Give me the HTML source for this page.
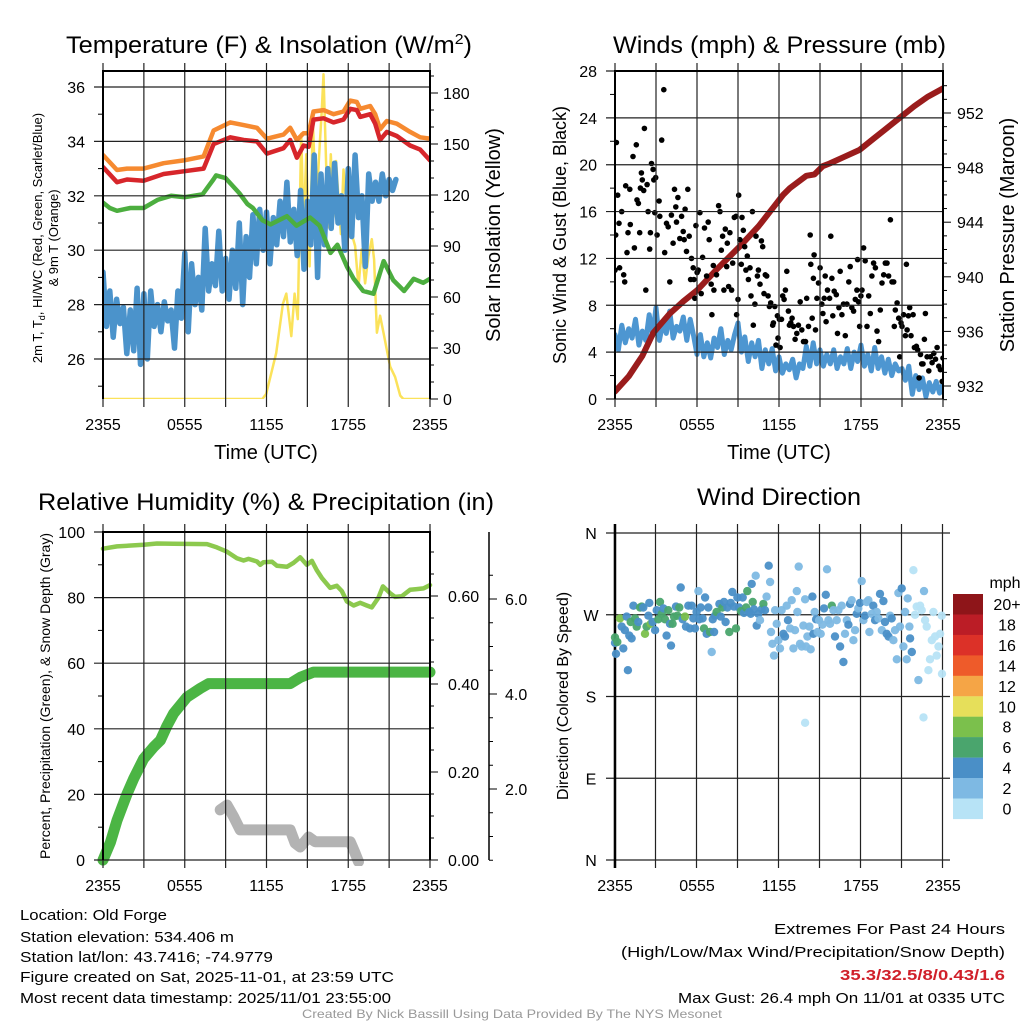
<!DOCTYPE html>
<html><head><meta charset="utf-8"><style>
html,body{margin:0;padding:0;background:#fff;}
svg{display:block;font-family:"Liberation Sans",sans-serif;}
</style></head><body>
<svg id="fig" width="1024" height="1024" viewBox="0 0 1024 1024" xmlns="http://www.w3.org/2000/svg">
<defs>
<clipPath id="cTL"><rect x="103" y="71" width="327" height="328"/></clipPath>
<clipPath id="cTR"><rect x="615" y="71" width="328" height="328"/></clipPath>
<clipPath id="cBL"><rect x="96" y="526" width="345" height="340"/></clipPath>
<clipPath id="cBR"><rect x="606" y="526" width="345" height="340"/></clipPath>
</defs>
<g id="titles" font-size="24" fill="#000">
<text x="66" y="53" textLength="406" lengthAdjust="spacingAndGlyphs">Temperature (F) &amp; Insolation (W/m<tspan dy="-9" font-size="15">2</tspan><tspan dy="9">)</tspan></text>
<text x="613" y="53" textLength="333" lengthAdjust="spacingAndGlyphs">Winds (mph) &amp; Pressure (mb)</text>
<text x="38" y="510" textLength="456" lengthAdjust="spacingAndGlyphs">Relative Humidity (%) &amp; Precipitation (in)</text>
<text x="697" y="505" textLength="164" lengthAdjust="spacingAndGlyphs">Wind Direction</text>
</g>
<g font-size="20">
<text x="266" y="459" text-anchor="middle">Time (UTC)</text>
<text x="779" y="459" text-anchor="middle">Time (UTC)</text>
<text transform="translate(500,235) rotate(-90)" text-anchor="middle">Solar Insolation (Yellow)</text>
<text transform="translate(1014,235) rotate(-90)" text-anchor="middle">Station Pressure (Maroon)</text>
<text transform="translate(566,235) rotate(-90)" text-anchor="middle" font-size="18">Sonic Wind &amp; Gust (Blue, Black)</text>
</g>
<g font-size="13">
<text transform="translate(42,238) rotate(-90)" text-anchor="middle">2m T, T<tspan font-size="9" dy="3">d</tspan><tspan dy="-3">, HI/WC (Red, Green, Scarlet/Blue)</tspan></text>
<text transform="translate(58,238) rotate(-90)" text-anchor="middle">&amp; 9m T (Orange)</text>
<text transform="translate(50,696) rotate(-90)" text-anchor="middle" font-size="14">Percent, Precipitation (Green), &amp; Snow Depth (Gray)</text>
<text transform="translate(568,696) rotate(-90)" text-anchor="middle" font-size="16">Direction (Colored By Speed)</text>
</g>
<g font-size="15">
<text x="20" y="920" textLength="147" lengthAdjust="spacingAndGlyphs">Location: Old Forge</text>
<text x="20" y="942" textLength="214" lengthAdjust="spacingAndGlyphs">Station elevation: 534.406 m</text>
<text x="20" y="962" textLength="253" lengthAdjust="spacingAndGlyphs">Station lat/lon: 43.7416; -74.9779</text>
<text x="20" y="982" textLength="374" lengthAdjust="spacingAndGlyphs">Figure created on Sat, 2025-11-01, at 23:59 UTC</text>
<text x="20" y="1003" textLength="371" lengthAdjust="spacingAndGlyphs">Most recent data timestamp: 2025/11/01 23:55:00</text>
<text x="1005" y="934" text-anchor="end" textLength="231" lengthAdjust="spacingAndGlyphs">Extremes For Past 24 Hours</text>
<text x="1005" y="957" text-anchor="end" textLength="384" lengthAdjust="spacingAndGlyphs">(High/Low/Max Wind/Precipitation/Snow Depth)</text>
<text x="1005" y="980" text-anchor="end" textLength="165" lengthAdjust="spacingAndGlyphs" fill="#d0202a" font-weight="bold">35.3/32.5/8/0.43/1.6</text>
<text x="1005" y="1003" text-anchor="end" textLength="327" lengthAdjust="spacingAndGlyphs">Max Gust: 26.4 mph On 11/01 at 0335 UTC</text>
<text x="512" y="1018" text-anchor="middle" font-size="12" fill="#999" textLength="420" lengthAdjust="spacingAndGlyphs">Created By Nick Bassill Using Data Provided By The NYS Mesonet</text>
</g>
<text x="1005" y="588" text-anchor="middle" font-size="16">mph</text>
<g id="layer"></g>
</svg>
<script>
// ---------- data ----------
const xTickLabels = ["2355","0555","1155","1755","2355"];
// Temperature panel
const redT = [0,1.03,1.76,2.98,4.45,5.92,7.38,8.12,9.34,10.32,11.3,12.03,13.25,13.74,14.23,14.72,15.09,15.45,16.19,16.92,17.65,18.14,18.63,18.88,19.61,19.98,20.34,20.83,21.56,22.54,23.28,24];
const redV = [33.06,32.5,32.6,32.55,32.8,32.9,33.0,33.9,34.15,34.05,34.0,33.55,33.75,34.05,33.4,33.85,33.8,34.8,34.85,34.7,34.8,35.2,35.15,34.9,35.0,34.65,34.05,34.35,34.2,33.85,33.7,33.3];
const orangeV = [33.5,32.95,33.0,33.0,33.2,33.3,33.45,34.4,34.7,34.6,34.5,34.1,34.25,34.5,34.05,34.3,34.3,35.1,35.15,35.0,35.1,35.5,35.45,35.2,35.3,35.0,34.45,34.75,34.65,34.35,34.15,34.1];
const greenT = [0,0.5,1.03,2,2.98,4,5,6,7.3,8.1,8.3,9,10,10.6,11,11.7,12.3,13.5,14.2,15.2,15.9,16.7,17.2,17.9,18.4,19.1,19.85,20.6,21.3,22.1,22.8,23.5,24];
const greenV = [31.75,31.55,31.45,31.55,31.55,31.85,32.0,31.95,32.05,32.6,32.75,32.65,32.1,31.7,31.55,31.1,30.95,31.25,30.9,31.2,30.9,29.9,30.2,29.4,28.95,28.5,28.4,29.6,28.9,28.5,28.95,28.8,28.95];
const dewStep = 0.25;
const dewV = [29.2,27.2,28.5,26.8,28.2,27.3,27.9,26.2,27.8,26.3,28.6,25.8,
 28.4,26.0,28.5,27.2,28.0,27.0,28.1,27.4,27.8,26.4,28.5,27.5,
 29.9,27.0,29.5,28.0,29.0,27.8,30.8,28.5,29.5,28.7,30.7,28.5,
 29.7,28.2,30.0,28.6,31.0,28.0,30.5,29.0,31.3,29.5,31.5,30.0,
 31.4,29.5,31.2,30.2,31.8,30.5,32.5,30.3,31.5,29.8,32.2,29.3,
 31.8,30.2,33.5,29.0,32.8,30.2,33.0,30.8,33.2,31.0,32.0,30.0,
 33.0,30.5,33.5,31.2,32.0,29.4,32.8,31.8,32.5,31.8,32.8,32.0,
 32.6,32.2,32.6];
const solarT = [0,11.7,11.98,12.71,13.2,13.45,13.82,14.06,14.3,14.55,14.72,14.92,15.16,15.4,15.65,15.84,16.06,16.18,16.38,16.55,16.72,16.92,17.11,17.29,17.46,17.65,17.9,18.09,18.26,18.5,18.75,18.99,19.24,19.48,19.73,19.9,20.1,20.34,20.59,20.83,21.08,21.44,21.81,22.05,24];
const solarV = [0,0,3,27,56,62,37,62,47,156,101,144,78,164,111,140,170,191,137,101,144,107,140,117,97,135,111,131,97,90,66,88,68,84,94,82,39,49,39,29,19,13,2,0,0];
const tempTicks = [26,28,30,32,34,36];
const solarTicks = [0,30,60,90,120,150,180];
// Wind panel
const windStep = 0.25;
const windV = [5.5,4.2,6.3,4.8,6.0,5.2,6.8,4.6,5.8,5.0,7.2,5.4,
 7.8,5.0,6.5,5.6,7.5,5.2,6.2,5.8,7.0,5.0,6.8,5.4,
 3.8,5.5,3.6,4.8,3.5,5.2,4.4,6.0,3.8,5.0,4.2,5.5,
 6.5,4.0,5.3,3.2,4.8,3.6,5.0,2.6,4.2,3.0,4.3,2.4,
 3.6,2.2,3.0,2.5,3.4,1.8,3.0,2.6,4.5,2.8,4.8,3.0,
 4.2,2.8,3.8,3.0,4.2,2.6,3.6,3.0,4.3,2.6,4.0,3.2,
 4.6,2.8,3.8,2.4,4.4,2.6,3.6,2.2,3.4,2.0,3.0,2.4,
 2.6,1.6,2.8,0.4,2.0,0.8,1.8,0.2,1.4,0.6,1.5,0.5,1.3];
const gustT = [0,0.05,0.1,0.2,0.29,0.34,0.49,0.64,0.71,0.78,0.88,0.95,1.08,1.12,1.32,1.42,1.56,1.61,1.71,1.81,1.86,1.93,2.0,2.1,2.15,2.25,2.35,2.42,2.54,2.59,2.67,2.79,2.84,2.91,2.98,3.08,3.23,3.28,3.42,3.57,3.64,3.77,3.89,4.01,4.13,4.25,4.35,4.45,4.5,4.6,4.74,4.87,4.99,5.06,5.13,5.23,5.33,5.43,5.53,5.6,5.72,5.77,5.84,5.92,6.01,6.09,6.21,6.31,6.41,6.55,6.7,6.82,6.89,7.04,7.09,7.19,7.24,7.43,7.58,7.68,7.78,7.87,7.97,8.07,8.17,8.22,8.31,8.41,8.53,8.61,8.73,8.85,8.9,9.0,9.05,9.14,9.24,9.29,9.39,9.49,9.58,9.68,9.76,9.88,9.95,10.05,10.12,10.24,10.32,10.42,10.49,10.61,10.71,10.81,10.9,11.0,11.1,11.2,11.3,11.39,11.54,11.59,11.69,11.78,11.88,11.93,12.03,12.08,12.18,12.27,12.37,12.47,12.57,12.69,12.76,12.86,12.96,13.06,13.18,13.3,13.42,13.55,13.67,13.79,13.94,14.03,14.16,14.28,14.33,14.43,14.52,14.57,14.67,14.77,14.89,15.01,15.13,15.21,15.31,15.38,15.45,15.55,15.7,15.79,15.87,15.94,16.04,16.19,16.28,16.38,16.48,16.6,16.72,16.85,16.97,17.11,17.21,17.33,17.46,17.58,17.7,17.75,17.82,17.9,17.99,18.07,18.19,18.31,18.44,18.56,18.68,18.8,18.92,19.05,19.17,19.29,19.41,19.54,19.66,19.78,19.9,20.02,20.15,20.27,20.39,20.44,20.51,20.64,20.76,20.83,20.93,21.0,21.12,21.25,21.32,21.37,21.47,21.56,21.66,21.81,21.91,22.05,22.15,22.25,22.35,22.44,22.54,22.64,22.71,22.84,22.96,23.08,23.2,23.33,23.45,23.57,23.69,23.81,23.94,24.0];
const gustV = [11.0,14.0,21.9,17.4,15.0,11.2,16.0,10.6,10.0,18.2,12.5,14.2,17.9,14.9,20.7,12.9,21.7,17.0,16.7,14.2,18.0,19.3,18.7,17.8,23.1,9.3,18.3,16.0,12.8,14.2,20.1,19.6,18.7,15.9,18.9,14.0,16.9,15.6,22.1,26.4,12.5,15.0,14.7,10.0,15.7,13.3,17.9,16.4,15.1,17.2,13.7,15.6,14.3,13.6,16.2,12.6,17.9,13.9,10.2,12.0,11.2,10.2,8.6,14.8,10.8,11.0,15.9,9.0,12.1,14.6,10.5,15.1,13.6,9.8,7.2,11.4,9.3,10.6,16.5,16.0,12.7,13.9,9.3,14.5,11.3,13.3,9.6,14.2,9.3,11.6,15.5,15.6,7.2,8.5,17.4,13.6,11.5,15.5,14.4,13.0,11.0,12.2,10.2,11.2,8.8,16.0,6.3,8.1,13.9,10.5,11.0,9.8,13.5,13.0,9.0,10.6,10.5,8.8,7.9,8.2,6.3,6.5,7.9,4.6,7.1,5.2,6.8,4.4,6.8,8.8,8.5,9.3,10.9,7.5,6.3,6.5,6.9,6.2,5.1,5.6,6.3,8.3,5.9,4.9,4.9,8.6,6.2,14.0,11.5,6.9,10.3,12.3,5.9,8.6,9.9,11.2,8.1,7.3,8.6,10.5,6.6,9.3,8.6,13.9,10.3,7.1,9.2,8.9,5.6,7.8,10.9,7.2,8.1,5.4,8.1,10.0,11.3,7.8,7.5,8.5,9.3,11.9,8.3,6.2,8.8,9.3,12.9,11.8,6.2,8.8,7.3,10.5,11.6,11.2,5.8,4.9,7.6,9.9,10.6,11.6,11.6,10.5,15.3,10.0,10.0,6.2,7.6,8.2,6.9,3.6,6.5,6.2,7.2,5.4,11.5,5.9,7.1,7.8,5.4,7.2,4.4,4.5,4.2,1.8,3.8,3.0,3.0,5.1,7.3,3.6,2.4,3.6,3.1,3.9,3.4,4.4,2.8,2.5,1.5,3.5];
const presT = [0,1,2,2.8,4,5,6,7.5,9.1,10.5,11.6,12.3,12.8,14,14.6,15.2,15.7,16.8,17.9,18.9,19.9,20.9,21.9,22.9,24];
const presV = [931.6,932.7,934.2,935.9,937.3,938.2,939.0,940.6,942.2,943.7,945.1,946.0,946.5,947.4,947.5,948.1,948.3,948.8,949.3,950.1,950.9,951.7,952.5,953.2,953.8];
const windTicks = [0,4,8,12,16,20,24,28];
const presTicks = [932,936,940,944,948,952];
// Humidity panel
const rhT = [0,1.03,2.98,3.96,5.18,7.63,8.36,9.1,9.83,10.32,10.68,11.3,11.54,11.78,12.4,12.76,13.5,13.99,14.47,14.96,15.33,15.7,16.06,16.67,17.16,17.53,17.9,18.39,18.88,19.36,19.73,20.22,20.54,21.08,21.44,21.93,22.54,23.03,23.52,24];
const rhV = [94.9,95.6,96.1,96.5,96.4,96.3,95.3,94,92,91.3,91.8,91.0,90.0,90.8,90.9,89.7,89.4,90.6,92.3,90.0,91.2,88.3,86.0,83.0,83.6,82.0,78.8,77.6,78.4,77.6,77.0,80.0,83.4,81.3,80.2,80.4,82.4,82.6,82.8,83.8];
const precipT = [0,0.54,1.03,1.76,2.25,2.98,3.72,4.21,4.7,5.18,6.16,7.14,7.75,13.74,14.47,15.45,24];
const precipV = [0,0.04,0.09,0.15,0.185,0.23,0.257,0.272,0.305,0.333,0.37,0.39,0.401,0.401,0.415,0.427,0.427];
const snowT = [8.6,9.1,9.58,10.07,13.74,14.1,14.47,15.09,15.57,18.14,18.5,18.75];
const snowV = [1.56,1.66,1.42,1.14,1.14,0.86,0.78,0.99,0.89,0.89,0.65,0.47];
const rhTicks = [0,20,40,60,80,100];
const precipTicks = ["0.00","0.20","0.40","0.60"];
const snowTicks = ["2.0","4.0","6.0"];
// Direction panel
const dirT = [0,0.07,0,0.17,0.37,0.49,0.61,0.73,0.86,0.95,1.05,1.15,1.22,1.35,1.47,1.59,1.71,1.84,1.96,2.08,2.2,2.32,2.45,2.52,2.62,2.76,2.94,3.06,3.18,3.3,3.43,3.55,3.67,3.79,3.91,4.04,4.11,4.23,4.33,4.48,4.58,4.72,4.82,4.97,5.14,5.21,5.38,5.5,5.63,5.75,5.87,5.99,6.12,6.19,6.29,6.43,6.53,6.61,6.73,6.85,6.97,7.1,7.17,7.27,7.34,7.46,7.66,7.76,7.88,8.0,8.12,8.25,8.39,8.49,8.61,8.74,8.88,8.98,9.1,9.25,9.37,9.47,9.62,9.71,9.86,9.96,10.03,10.11,10.2,10.33,10.4,10.52,10.64,10.77,10.89,11.01,11.13,11.28,11.38,11.45,11.55,11.67,11.75,11.87,11.99,12.11,12.23,12.36,12.48,12.6,12.7,12.85,12.97,13.09,13.21,13.34,13.39,13.48,13.58,13.7,13.83,13.95,14.02,14.12,14.27,14.36,14.49,14.56,14.66,14.76,14.88,14.98,15.1,15.22,15.34,15.47,15.56,15.66,15.78,15.91,16.03,16.15,16.27,16.4,16.52,16.64,16.76,16.88,17.01,17.13,17.25,17.37,17.5,17.62,17.74,17.86,17.98,18.11,18.23,18.35,18.47,18.6,18.67,18.84,18.96,19.09,19.21,19.33,19.45,19.58,19.7,19.82,19.94,20.07,20.19,20.31,20.43,20.55,20.68,20.8,20.92,21.04,21.17,21.29,21.41,21.48,21.61,21.66,21.78,21.9,22.02,22.14,22.27,22.39,22.51,22.64,22.68,22.76,22.88,23.0,23.12,23.25,23.37,23.49,23.61,23.74,23.86,23.98,24,13.95];
const dirV = [239,227,245,240,266,257,233,253,268,209,247,262,244,280,266,257,262,278,279,278,249,257,269,283,260,262,253,275,265,284,271,277,265,247,275,260,236,260,268,279,269,278,300,265,268,257,280,255,280,266,255,273,296,265,278,266,255,289,249,278,251,229,265,251,269,273,282,268,278,284,262,278,251,283,295,279,255,289,278,274,289,272,278,296,273,271,304,284,276,313,258,271,264,276,282,275,290,324,306,251,238,225,275,260,242,233,275,249,246,280,264,255,286,233,253,296,273,323,238,235,258,287,235,246,257,232,290,249,273,265,251,264,249,259,277,292,320,264,260,280,275,246,264,275,235,280,218,249,264,259,282,286,242,253,271,277,283,307,264,269,284,286,251,271,280,264,273,266,293,253,285,262,249,246,269,266,242,253,221,294,257,299,235,273,221,288,257,244,229,319,270,279,198,280,275,157,296,264,257,209,221,242,273,246,225,235,249,269,205,151];
const dirS = [5,5,7,7,9,5,5,5,5,5,5,7,5,5,7,7,5,7,7,5,9,7,5,5,9,5,5,5,7,7,7,5,7,5,7,5,5,7,7,5,7,7,5,5,9,5,5,5,5,5,5,5,3,5,5,5,7,5,5,5,7,3,5,5,5,7,5,5,7,5,5,5,7,5,5,5,7,5,5,7,5,5,7,7,5,5,5,7,5,3,5,5,3,5,7,5,3,5,3,3,3,3,3,3,3,3,3,5,5,3,5,3,3,3,3,3,3,3,3,3,3,3,3,3,3,3,5,5,3,5,3,3,3,3,5,5,3,3,3,7,3,5,3,3,5,3,5,3,3,5,5,3,3,3,5,3,5,3,3,5,3,3,3,3,5,5,3,3,5,3,5,5,5,5,3,5,3,3,3,3,3,5,3,3,3,3,3,5,5,1,1,1,3,1,1,1,3,1,1,1,1,1,1,1,1,1,1,1,1,1];
const dirLabels = ["N","W","S","E","N"];
const dirTicks = [360,270,180,90,0];
const legendLabels = ["20+","18","16","14","12","10","8","6","4","2","0"];
const legendColors = ["#8e1519","#bb1d26","#dc3128","#ee5b2a","#f5a546","#e6df5a","#7bc04c","#4aa56d","#4a8fc7","#7eb9e3","#b7e3f6"];

// ---------- helpers ----------
const NS = "http://www.w3.org/2000/svg";
const root = document.getElementById('layer');
function mk(tag, parent, attrs){ const e = document.createElementNS(NS, tag); for (const k in attrs) e.setAttribute(k, attrs[k]); parent.appendChild(e); return e; }
function pathD(xs, ys, fx, fy){ let d=""; for(let i=0;i<xs.length;i++){ d += (i?"L":"M") + fx(xs[i]).toFixed(1) + "," + fy(ys[i]).toFixed(1); } return d; }
function stepT(n, step){ const a=[]; for(let i=0;i<n;i++) a.push(i*step); return a; }

const xL = t => 103 + t*327/24;
const xR = t => 615 + t*328/24;
const yTemp = v => 359 - (v-26)*27.2;
const ySolar = v => 399 - v*1.7;
const yWind = v => 399 - v*328/28;
const yPres = v => 386 - (v-932)*13.65;
const yRH = v => 860 - v*3.28;
const yPrecip = v => 860 - v*440;
const ySnow = v => 884 - v*47.5;
const yDir = d => 860 - d*327/360;

function line(parent, x1,y1,x2,y2, stroke, w){ return mk('line', parent, {x1:x1,y1:y1,x2:x2,y2:y2,stroke:stroke,'stroke-width':w}); }
function label(parent, x, y, txt, anchor, size){ const t = mk('text', parent, {x:x,y:y,'text-anchor':anchor,'font-size':size}); t.textContent = txt; return t; }
function series(parent, xs, ys, fx, fy, color, w, clip){ const p = mk('path', parent, {d:pathD(xs,ys,fx,fy),fill:'none',stroke:color,'stroke-width':w,'stroke-linejoin':'round','stroke-linecap':'round','clip-path':'url(#'+clip+')'}); return p; }

function timeGrid(g, fx, top, bottom, left, right){
  for(let h=0; h<=24; h+=3){
    const l = line(g, fx(h), top-8, fx(h), bottom+8, '#222', 1.2);
    
    
  }
  for(let i=0;i<xTickLabels.length;i++){
    const t = label(g, fx(i*6), bottom+31, xTickLabels[i], 'middle', 16);
    
    
  }
  const f = mk('path', g, {d:`M${left},${bottom}V${top}H${right}V${bottom}`, fill:'none', stroke:'#000','stroke-width':2});
  
  
}

// ---------- Temperature panel ----------
const gTL = mk('g', root, {});


let s;
s = series(gTL, solarT, solarV, xL, ySolar, '#fbe25a', 2.5, 'cTL');


s = series(gTL, stepT(dewV.length, dewStep), dewV, xL, yTemp, '#4b93cb', 5.5, 'cTL');


s = series(gTL, greenT, greenV, xL, yTemp, '#4cae3f', 4.5, 'cTL');


s = series(gTL, redT, orangeV, xL, yTemp, '#f68a30', 4.5, 'cTL');


s = series(gTL, redT, redV, xL, yTemp, '#d7262b', 4.5, 'cTL');


for(const v of tempTicks){
  const l = line(gTL, 94, yTemp(v), 430, yTemp(v), '#222', 1.2);
  
  
  const t = label(gTL, 85, yTemp(v)+6, String(v), 'end', 16);
  
  
}
for(let v=25; v<=36; v+=2){
  const l = line(gTL, 98, yTemp(v), 103, yTemp(v), '#000', 1);
  
  
}
for(let v=0; v<=190; v+=10){
  const major = v%30===0;
  const l = line(gTL, 430, ySolar(v), major?438:434, ySolar(v), '#000', 1);
  
  
}
for(const v of solarTicks){
  const t = label(gTL, 443, ySolar(v)+6, String(v), 'start', 16);
  
  
}
timeGrid(gTL, xL, 71, 399, 103, 430);

// ---------- Wind panel ----------
const gTR = mk('g', root, {});


s = series(gTR, stepT(windV.length, windStep), windV, xR, yWind, '#4d96d1', 5, 'cTR');


s = series(gTR, presT, presV, xR, yPres, '#9a1c1c', 6, 'cTR');


for(let i=0;i<gustT.length;i++){
  const c = mk('circle', gTR, {cx:xR(gustT[i]).toFixed(1), cy:yWind(gustV[i]).toFixed(1), r:2.8, fill:'#000','clip-path':'url(#cTR)'});
  
  
}
for(const v of windTicks){
  const l = line(gTR, 606, yWind(v), 943, yWind(v), '#222', 1.2);
  
  
  const t = label(gTR, 597, yWind(v)+6, String(v), 'end', 16);
  
  
}
for(let v=2; v<28; v+=4){
  const l = line(gTR, 610, yWind(v), 615, yWind(v), '#000', 1);
  
  
}
for(let v=931; v<=954; v++){
  const major = v%4===0;
  const l = line(gTR, 943, yPres(v), major?951:947, yPres(v), '#000', 1);
  
  
}
for(const v of presTicks){
  const t = label(gTR, 957, yPres(v)+6, String(v), 'start', 16);
  
  
}
timeGrid(gTR, xR, 71, 399, 615, 943);

// ---------- Humidity panel ----------
const gBL = mk('g', root, {});


s = series(gBL, snowT, snowV, xL, ySnow, '#b3b3b3', 11, 'cBL');


s = series(gBL, precipT, precipV, xL, yPrecip, '#4bb544', 11, 'cBL');


s = series(gBL, rhT, rhV, xL, yRH, '#8cc94e', 4.5, 'cBL');


for(const v of rhTicks){
  const l = line(gBL, 94, yRH(v), 430, yRH(v), '#222', 1.2);
  
  
  const t = label(gBL, 85, yRH(v)+6, String(v), 'end', 16);
  
  
}
for(let v=10; v<100; v+=20){
  const l = line(gBL, 98, yRH(v), 103, yRH(v), '#000', 1);
  
  
}
for(let k=0; k<=14; k++){
  const v = k*0.05;
  const major = k%4===0;
  const l = line(gBL, 430, yPrecip(v), major?438:434, yPrecip(v), '#000', 1);
  
  
}
for(const v of precipTicks){
  const t = label(gBL, 448, yPrecip(parseFloat(v))+6, v, 'start', 16);
  
  
}
const snowAxis = line(gBL, 489, 532, 489, 860, '#000', 1.5);


for(let k=1; k<=13; k++){
  const v = k*0.5;
  const major = k%4===0;
  const l = line(gBL, 489, ySnow(v), major?497:493, ySnow(v), '#000', 1);
  
  
}
for(const v of snowTicks){
  const t = label(gBL, 505, ySnow(parseFloat(v))+6, v, 'start', 16);
  
  
}
timeGrid(gBL, xL, 532, 860, 103, 430);

// ---------- Direction panel ----------
const gBR = mk('g', root, {});


for(let i=0;i<dirTicks.length;i++){
  const l = line(gBR, 606, yDir(dirTicks[i]), 950, yDir(dirTicks[i]), '#222', 1.2);
  
  
  const t = label(gBR, 591, yDir(dirTicks[i])+6, dirLabels[i], 'middle', 16);
  
  
}
for(let h=0; h<=24; h+=3){
  const l = line(gBR, xR(h)-0.5, 524, xR(h)-0.5, 868, '#222', 1.2);
  
  
}
for(let i=0;i<xTickLabels.length;i++){
  const t = label(gBR, xR(i*6), 891, xTickLabels[i], 'middle', 16);
  
  
}
const lAx = line(gBR, 615, 524, 615, 868, '#000', 2.5);


function speedColor(v){ const n = (typeof v === 'number') ? v : 1; const idx = Math.min(10, Math.max(0, Math.floor(n/2))); return legendColors[10-idx]; }
for(let i=0;i<dirT.length;i++){
  const c = mk('circle', gBR, {cx:(615+dirT[i]*327/24).toFixed(1), cy:yDir(dirV[i]).toFixed(1), r:4.2, fill:speedColor(dirS[i]), 'fill-opacity':0.95});
  
  
}
for(let i=0;i<legendColors.length;i++){
  const r = mk('rect', gBR, {x:953, y:(594+i*20.45).toFixed(1), width:30, height:20.6, fill:legendColors[i]});
  
  
  const t = label(gBR, 1007, 594+i*20.45+16, legendLabels[i], 'middle', 16);
  
  
}
</script>
</body></html>
